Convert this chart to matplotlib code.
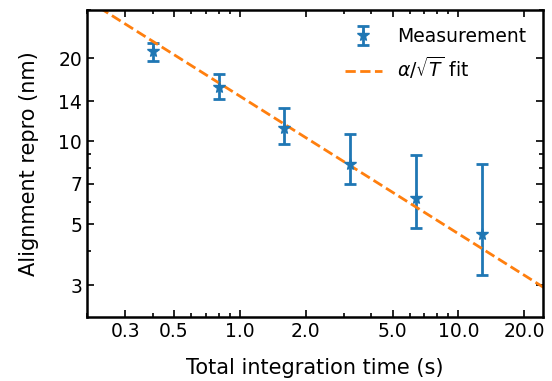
import numpy as np
import matplotlib
matplotlib.use('Agg')
import matplotlib.pyplot as plt
from matplotlib.ticker import FixedLocator, FormatStrFormatter, LogLocator, NullFormatter

# measured repro vs integration time
t_s = [0.4, 0.8, 1.6, 3.2, 6.4, 12.8]
repro_nm = [21.2, 15.7, 11.2, 8.3, 6.2, 4.6]
repro_lo = [19.6, 14.3, 9.8, 7.0, 4.85, 3.27]
repro_hi = [22.8, 17.6, 13.2, 10.6, 8.9, 8.25]

# alpha / sqrt(T) fit
fit_alpha = 14.6
fit_t = np.array([0.2, 25.0])

x_ticks = [0.3, 0.5, 1.0, 2.0, 5.0, 10.0, 20.0]
y_ticks = [3, 5, 7, 10, 14, 20]

fig = plt.figure(figsize=(5.52, 3.81), dpi=100)
ax = fig.add_axes([0.1576, 0.168, 0.8261, 0.8058])

yerr = [np.array(repro_nm) - np.array(repro_lo), np.array(repro_hi) - np.array(repro_nm)]
h_meas = ax.errorbar(t_s, repro_nm, yerr=yerr, fmt='*', color='C0', ms=8.5, capsize=4,
                     elinewidth=2, capthick=2, label='Measurement')
h_fit, = ax.plot(fit_t, fit_alpha / np.sqrt(fit_t), '--', color='C1', lw=2,
                 label=r'$\alpha/\sqrt{T}$ fit')

ax.set_xscale('log')
ax.set_yscale('log')
ax.set_xlim(0.2, 24.4)
ax.set_ylim(2.3, 30)

ax.xaxis.set_major_locator(FixedLocator(x_ticks))
ax.xaxis.set_major_formatter(FormatStrFormatter('%.1f'))
ax.xaxis.set_minor_locator(LogLocator(subs=np.arange(2, 10)))
ax.xaxis.set_minor_formatter(NullFormatter())
ax.yaxis.set_major_locator(FixedLocator(y_ticks))
ax.yaxis.set_major_formatter(FormatStrFormatter('%d'))
ax.yaxis.set_minor_locator(LogLocator(subs=np.arange(2, 10)))
ax.yaxis.set_minor_formatter(NullFormatter())

ax.tick_params(which='both', direction='in', top=True, right=True, width=1.2,
               labelsize=13.5)
ax.tick_params(which='major', length=5)
ax.tick_params(which='minor', length=3)
for sp in ax.spines.values():
    sp.set_linewidth(1.8)

ax.set_xlabel('Total integration time (s)', fontsize=15, labelpad=12)
ax.set_ylabel('Alignment repro (nm)', fontsize=15, labelpad=14)
ax.legend([h_meas, h_fit], ['Measurement', r'$\alpha/\sqrt{T}$ fit'],
          loc='upper right', frameon=False, fontsize=13.5)

fig.savefig('out.png', dpi=100)
